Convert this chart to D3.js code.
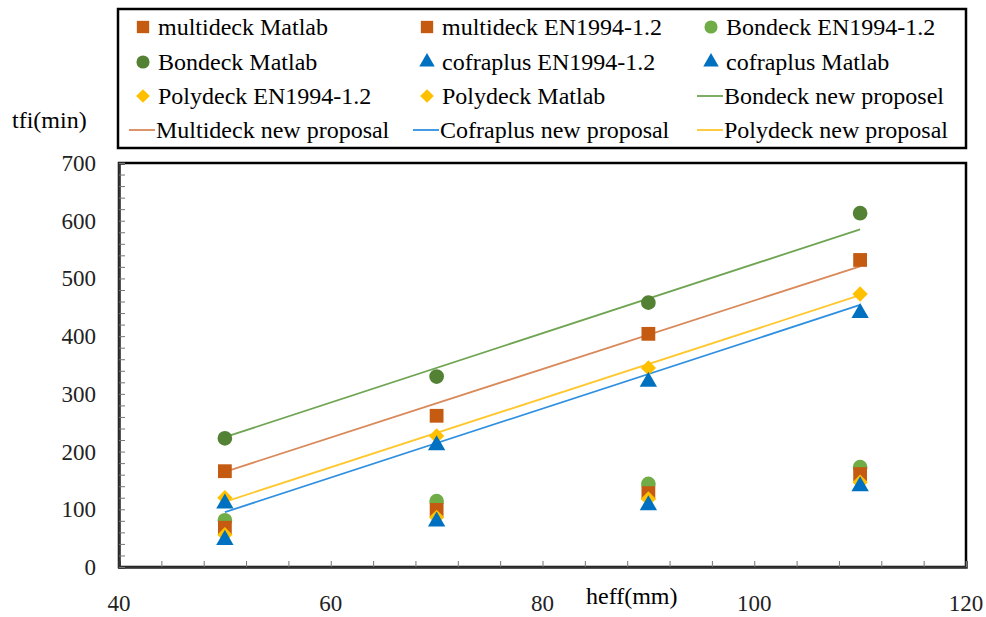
<!DOCTYPE html>
<html>
<head>
<meta charset="utf-8">
<script src="https://cdn.jsdelivr.net/npm/d3@7"></script>
<style>
  body { margin: 0; background: #fff; }
  svg { font-family: "Liberation Serif", "Times New Roman", serif; }
</style>
</head>
<body>
<div id="chart"></div>
<script>
const heff = [50, 70, 90, 110];

const multideckMatlab = [166, 262, 404, 532];
const multideckEN = [68, 99, 128, 161];
const bondeckEN = [81, 114, 144, 173];
const bondeckMatlab = [223, 330, 458, 613];
const cofraplusEN = [47, 79, 107, 140];
const cofraplusMatlab = [110, 211, 321, 440];
const polydeckEN = [56, 86, 118, 147];
const polydeckMatlab = [120, 227, 345, 473];

// new proposal lines (values at heff 50 and 110)
const lineX = [50, 110];
const bondeckProposal = [225, 585];
const multideckProposal = [165, 521];
const cofraplusProposal = [95, 454];
const polydeckProposal = [113, 471];

const xTicks = [40, 60, 80, 100, 120];
const yTicks = [0, 100, 200, 300, 400, 500, 600, 700];

const scatterSeries = [
  { name: "multideck Matlab", values: multideckMatlab, shape: "square", color: "#C55A11" },
  { name: "multideck EN1994-1.2", values: multideckEN, shape: "square", color: "#C55A11" },
  { name: "Bondeck EN1994-1.2", values: bondeckEN, shape: "circle", color: "#70AD47" },
  { name: "Bondeck Matlab", values: bondeckMatlab, shape: "circle", color: "#548235" },
  { name: "cofraplus EN1994-1.2", values: cofraplusEN, shape: "triangle", color: "#0070C0" },
  { name: "cofraplus Matlab", values: cofraplusMatlab, shape: "triangle", color: "#0070C0" },
  { name: "Polydeck EN1994-1.2", values: polydeckEN, shape: "diamond", color: "#FFC000" },
  { name: "Polydeck Matlab", values: polydeckMatlab, shape: "diamond", color: "#FFC000" }
];
const lineSeries = [
  { name: "Bondeck new proposel", values: bondeckProposal, color: "#6FA552" },
  { name: "Multideck new proposal", values: multideckProposal, color: "#D9895A" },
  { name: "Cofraplus new proposal", values: cofraplusProposal, color: "#2F8FE0" },
  { name: "Polydeck new proposal", values: polydeckProposal, color: "#FFC72C" }
];

const width = 986, height = 617;
const plot = { left: 119, right: 966, top: 163, bottom: 567 };

const svg = d3.select("#chart").append("svg")
  .attr("width", width).attr("height", height);

const x = d3.scaleLinear().domain([40, 120]).range([plot.left, plot.right]);
const y = d3.scaleLinear().domain([0, 700]).range([plot.bottom, plot.top]);

const symbolType = {
  square: d3.symbolSquare,
  circle: d3.symbolCircle,
  triangle: d3.symbolTriangle,
  diamond: d3.symbolDiamond2
};
const symbolSize = { square: 190, circle: 170, triangle: 130, diamond: 150 };
const sym = s => d3.symbol().type(symbolType[s]).size(symbolSize[s])();

// plot frame
svg.append("rect")
  .attr("x", plot.left).attr("y", plot.top)
  .attr("width", plot.right - plot.left).attr("height", plot.bottom - plot.top)
  .attr("fill", "none").attr("stroke", "#000").attr("stroke-width", 2.5);

// axes
const xAxis = svg.append("g").attr("transform", `translate(0,${plot.bottom})`)
  .call(d3.axisTop(x).tickValues(d3.range(40, 121, 4)).tickSize(6).tickFormat(""));
const yAxis = svg.append("g").attr("transform", `translate(${plot.left},0)`)
  .call(d3.axisRight(y).tickValues(d3.range(0, 701, 20)).tickSize(6).tickFormat(""));
[xAxis, yAxis].forEach(g => {
  g.select(".domain").attr("stroke", "#333").attr("stroke-width", 2.5);
  g.selectAll(".tick line").attr("stroke", "#777").attr("stroke-width", 1);
});

svg.append("g").selectAll("text").data(xTicks).join("text")
  .attr("x", d => x(d)).attr("y", 611)
  .attr("text-anchor", "middle").attr("font-size", 23).attr("fill", "#222")
  .text(d => d);
svg.append("g").selectAll("text").data(yTicks).join("text")
  .attr("x", 96).attr("y", d => y(d) + 8)
  .attr("text-anchor", "end").attr("font-size", 23).attr("fill", "#222")
  .text(d => d);

svg.append("text").attr("x", 586).attr("y", 604).attr("font-size", 24).text("heff(mm)");
svg.append("text").attr("x", 12).attr("y", 128).attr("font-size", 24).text("tfi(min)");

// proposal lines
const line = d3.line().x((d, i) => x(lineX[i])).y(d => y(d));
svg.append("g").selectAll("path").data(lineSeries).join("path")
  .attr("d", d => line(d.values))
  .attr("fill", "none").attr("stroke", d => d.color).attr("stroke-width", 1.8);

// scatter markers (EN drawn first, Matlab on top like the reference)
const order = [2, 1, 6, 4, 3, 0, 7, 5];
order.forEach(i => {
  const s = scatterSeries[i];
  svg.append("g").selectAll("path").data(s.values).join("path")
    .attr("d", sym(s.shape))
    .attr("transform", (d, j) => `translate(${x(heff[j])},${y(d)})`)
    .attr("fill", s.color);
});

// legend
const legend = svg.append("g");
legend.append("rect")
  .attr("x", 118).attr("y", 9).attr("width", 848).attr("height", 139)
  .attr("fill", "#fff").attr("stroke", "#000").attr("stroke-width", 2.5);

const items = scatterSeries.map(s => ({ ...s, type: "marker" }))
  .concat(lineSeries.map(s => ({ ...s, type: "line" })));
const colX = [143, 427, 711];
const rowY = [27, 62, 96, 130];
items.forEach((d, i) => {
  const cx = colX[i % 3], cy = rowY[Math.floor(i / 3)];
  const g = legend.append("g").attr("transform", `translate(${cx},${cy})`);
  if (d.type === "marker") {
    g.append("path").attr("d", d3.symbol().type(symbolType[d.shape]).size(symbolSize[d.shape] * 0.8)())
      .attr("fill", d.color);
  } else {
    g.append("line").attr("x1", -14).attr("x2", 12)
      .attr("stroke", d.color).attr("stroke-width", 1.8);
  }
  g.append("text").attr("x", d.type === "marker" ? 15 : 13).attr("y", 8)
    .attr("font-size", 24).text(d.name);
});
</script>
</body>
</html>
